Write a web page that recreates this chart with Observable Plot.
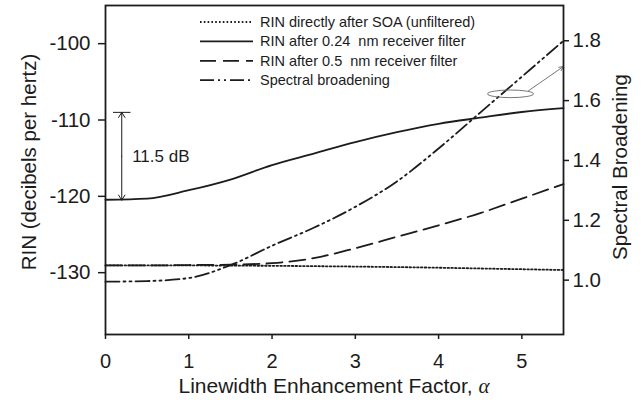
<!DOCTYPE html>
<html>
<head>
<meta charset="utf-8">
<script src="https://cdn.jsdelivr.net/npm/d3@7"></script>
<script src="https://cdn.jsdelivr.net/npm/@observablehq/plot@0.6"></script>
<style>
  body { margin: 0; background: #fff; }
  #chart { width: 644px; height: 400px; }
</style>
</head>
<body>
<div id="chart"></div>
<script>
// Linewidth enhancement factor (x axis)
const alpha = [0, 0.5, 1, 1.5, 2, 2.5, 3, 3.5, 4, 4.5, 5, 5.5];

// RIN curves, dB/Hz (left axis)
const rinUnfiltered = [-129.05, -129.05, -129.05, -129.08, -129.1, -129.15, -129.2, -129.27, -129.35, -129.45, -129.55, -129.65];
const rinFilter024  = [-120.45, -120.3, -119.2, -117.8, -115.9, -114.4, -112.9, -111.6, -110.5, -109.7, -108.95, -108.45];
const rinFilter05   = [-129.05, -129.05, -129.0, -128.95, -128.75, -128.1, -126.8, -125.3, -123.8, -122.2, -120.3, -118.4];

// Spectral broadening factor (right axis)
const broadening = [0.995, 0.997, 1.007, 1.05, 1.115, 1.175, 1.245, 1.33, 1.44, 1.56, 1.68, 1.80];

// Axis ticks
const xTicks = [0, 1, 2, 3, 4, 5];
const rinTicks = [-130, -120, -110, -100];
const broadeningTicks = [1.0, 1.2, 1.4, 1.6, 1.8];

// Legend entries, top to bottom
const seriesLabels = [
  "RIN directly after SOA (unfiltered)",
  "RIN after 0.24  nm receiver filter",
  "RIN after 0.5  nm receiver filter",
  "Spectral broadening"
];

// Annotations
const gapAt = 0.195;          // alpha of the 11.5 dB bracket
const gapLow = -120.5;        // RIN at the bracket foot
const gapDb = 11.5;           // bracket size, dB
const ellipseAt = {alpha: 4.87, broadening: 1.621};
const pointerFrom = {alpha: 5.08, broadening: 1.633};
const pointerTo = {alpha: 5.5, broadening: 1.714};

// Right axis shares the left scale: broadening 1.0 -> -130.98 dB, 39.2 dB per unit
const toRin = s => -130.98 + (s - 1) * 39.2;
const fromRin = r => 1 + (r + 130.98) / 39.2;

const ink = "#1c1c1c";
const dashes = ["1.6,2.2", null, "16,7", "14,4,2,4,2,4"];

const font = "'Liberation Sans', Arial, sans-serif";

function legend(index, scales, values, dim) {
  const g = d3.create("svg:g")
    .attr("font-family", font)
    .attr("font-size", 14.5)
    .attr("text-anchor", "start")
    .attr("fill", ink);
  const x0 = dim.marginLeft + 95;
  seriesLabels.forEach((label, i) => {
    const y = dim.marginTop + 17 + i * 19.4;
    g.append("line")
      .attr("x1", x0).attr("x2", x0 + 53)
      .attr("y1", y).attr("y2", y)
      .attr("stroke", ink)
      .attr("stroke-width", 1.8)
      .attr("stroke-dasharray", dashes[i]);
    g.append("text")
      .attr("x", x0 + 60).attr("y", y)
      .attr("dy", "0.35em")
      .attr("text-anchor", "start")
      .style("white-space", "pre")
      .text(label);
  });
  return g.node();
}

function xTitle(index, scales, values, dim) {
  const t = d3.create("svg:text")
    .attr("x", (dim.marginLeft + dim.width - dim.marginRight) / 2)
    .attr("y", dim.height - 7)
    .attr("text-anchor", "middle")
    .attr("font-family", font)
    .attr("font-size", 21)
    .attr("fill", ink);
  t.append("tspan").text("Linewidth Enhancement Factor, ");
  t.append("tspan")
    .attr("font-family", "'Liberation Serif', 'Times New Roman', serif")
    .attr("font-style", "italic")
    .text("α");
  return t.node();
}

function ellipse(index, {x, y}) {
  return d3.create("svg:ellipse")
    .attr("cx", x(ellipseAt.alpha))
    .attr("cy", y(toRin(ellipseAt.broadening)))
    .attr("rx", 23)
    .attr("ry", 3.8)
    .attr("fill", "none")
    .attr("stroke", "#666")
    .attr("stroke-width", 0.9)
    .node();
}

const chart = Plot.plot({
  width: 644,
  height: 400,
  marginLeft: 105,
  marginRight: 81,
  marginTop: 5,
  marginBottom: 66,
  style: {fontFamily: font, color: ink, background: "#fff"},
  x: {domain: [0, 5.5]},
  y: {domain: [-138.1, -95]},
  marks: [
    Plot.axisX(xTicks, {tickSize: 5, tickPadding: 14, fontSize: 20, strokeWidth: 1.5, label: null}),
    Plot.axisY(rinTicks, {anchor: "left", tickSize: 7, tickPadding: 8, fontSize: 20.5, strokeWidth: 1.5, label: null,
      tickFormat: d => String(d)}),
    Plot.axisY(broadeningTicks.map(toRin), {
      anchor: "right", tickSize: 5, tickPadding: 4, fontSize: 20.5, strokeWidth: 1.5, label: null,
      tickFormat: d => fromRin(d).toFixed(1)
    }),
    Plot.text(["RIN (decibels per hertz)"], {frameAnchor: "left", textAnchor: "middle", dx: -76, dy: -8, rotate: -90, fontSize: 20.5, fill: ink}),
    Plot.text(["Spectral Broadening"], {frameAnchor: "right", textAnchor: "middle", dx: 57, dy: -3, rotate: -90, fontSize: 20.5, fill: ink}),
    xTitle,

    // curves
    Plot.line(alpha, {x: alpha, y: rinUnfiltered, stroke: ink, strokeWidth: 1.8, strokeDasharray: dashes[0], curve: "monotone-x"}),
    Plot.line(alpha, {x: alpha, y: rinFilter024, stroke: ink, strokeWidth: 1.8, curve: "monotone-x"}),
    Plot.line(alpha, {x: alpha, y: rinFilter05, stroke: ink, strokeWidth: 1.8, strokeDasharray: dashes[2], curve: "monotone-x"}),
    Plot.line(alpha, {x: alpha, y: broadening.map(toRin), stroke: ink, strokeWidth: 1.8, strokeDasharray: dashes[3], curve: "monotone-x"}),

    // 11.5 dB bracket
    Plot.arrow([{x: gapAt, y1: gapLow + gapDb / 2, y2: gapLow + gapDb}, {x: gapAt, y1: gapLow + gapDb / 2, y2: gapLow}], {
      x1: "x", x2: "x", y1: "y1", y2: "y2", stroke: ink, strokeWidth: 1, headLength: 9, headAngle: 64
    }),
    Plot.link([{x1: gapAt - 0.105, x2: gapAt + 0.105, y: gapLow + gapDb}], {
      x1: "x1", x2: "x2", y1: "y", y2: "y", stroke: ink, strokeWidth: 1
    }),
    Plot.text([`${gapDb} dB`], {x: gapAt + 0.125, y: gapLow + gapDb / 2, textAnchor: "start", fontSize: 17, fill: ink}),

    // marker tying the broadening curve to its axis
    ellipse,
    Plot.arrow([{x1: pointerFrom.alpha, y1: toRin(pointerFrom.broadening), x2: pointerTo.alpha, y2: toRin(pointerTo.broadening)}], {
      x1: "x1", y1: "y1", x2: "x2", y2: "y2", stroke: "#555", strokeWidth: 0.8, headLength: 9, headAngle: 50
    }),

    legend,
    Plot.frame({stroke: ink, strokeWidth: 1.8})
  ]
});

document.getElementById("chart").append(chart);
</script>
</body>
</html>
